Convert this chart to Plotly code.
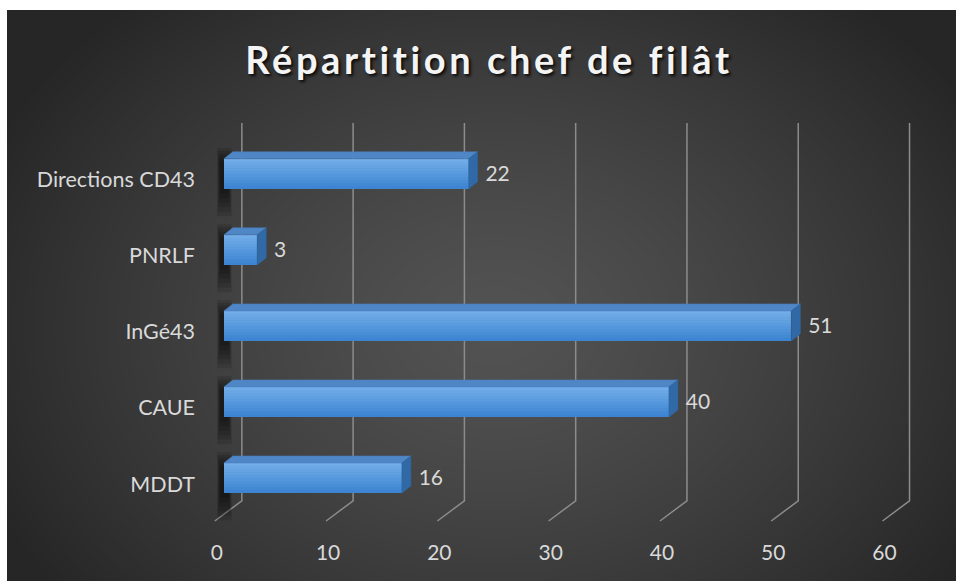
import base64
import struct
import zlib

import numpy as np
import plotly.graph_objects as go

# --- données ---
categories = ["MDDT", "CAUE", "InGé43", "PNRLF", "Directions CD43"]
values = [16, 40, 51, 3, 22]
x_ticks = [0, 10, 20, 30, 40, 50, 60]
titre = "Répartition chef de filât"

# --- géométrie de la pseudo-3D (unités des axes) ---
W = 0.395  # épaisseur de la barre (en catégories)
DX = 0.81  # profondeur horizontale d'une barre
DY = 0.092  # profondeur verticale d'une barre
GRID_TOP = 4.67
WALL_BOTTOM = -0.30
FLOOR_FRONT = -0.566

W_FIG, H_FIG = 956, 581
M = dict(l=196, r=20, t=113, b=46)

ypos = list(range(len(categories)))


def png_uri(gray):
    # petit encodeur PNG (niveaux de gris 8 bits) pour le fond dégradé
    h, w = gray.shape
    raw = b"".join(b"\x00" + gray[r].tobytes() for r in range(h))

    def chunk(tag, data):
        crc = zlib.crc32(tag + data) & 0xFFFFFFFF
        return struct.pack(">I", len(data)) + tag + data + struct.pack(">I", crc)

    png = b"\x89PNG\r\n\x1a\n"
    png += chunk(b"IHDR", struct.pack(">IIBBBBB", w, h, 8, 0, 0, 0, 0))
    png += chunk(b"IDAT", zlib.compress(raw, 9))
    png += chunk(b"IEND", b"")
    return "data:image/png;base64," + base64.b64encode(png).decode()


# fond radial gris foncé (bord blanc de 7 px à gauche, 10 px en haut)
bx0, by0 = 7, 10
bw, bh = W_FIG - bx0 + 20, H_FIG - by0 + 20
yy, xx = np.mgrid[0:bh, 0:bw]
d = np.sqrt(((xx + bx0 - 495) / 560.0) ** 2 + ((yy + by0 - 325) / 430.0) ** 2)
d = np.clip(d, 0, 1)
gray = (0x53 - (0x53 - 0x26) * d**1.3).astype(np.uint8)
fond = png_uri(gray)

pw = W_FIG - M["l"] - M["r"]
ph = H_FIG - M["t"] - M["b"]


def px(x):
    return (x - M["l"]) / pw


def py(y):
    return (H_FIG - M["b"] - y) / ph


fig = go.Figure()

# face avant : dégradé vertical en bandes
n_bandes = 10
bas = np.array([0x3D, 0x85, 0xD2])
haut = np.array([0x72, 0xAC, 0xE8])
for k in range(n_bandes):
    c = bas + (haut - bas) * k / (n_bandes - 1)
    fig.add_trace(
        go.Bar(
            x=values,
            y=ypos,
            orientation="h",
            base=0,
            width=W / n_bandes * 1.08,
            offset=-W / 2 + k * W / n_bandes,
            marker=dict(color="rgb(%d,%d,%d)" % tuple(c), line_width=0),
            hoverinfo="skip" if k else "x+text",
            hovertext=categories,
            showlegend=False,
        )
    )

# faces du dessus et de côté
top_x, top_y, side_x, side_y = [], [], [], []
for v, y in zip(values, ypos):
    yt, yb = y + W / 2, y - W / 2
    top_x += [0, v, v + DX, DX, 0, None]
    top_y += [yt, yt, yt + DY, yt + DY, yt, None]
    side_x += [v, v + DX, v + DX, v, v, None]
    side_y += [yt, yt + DY, yb + DY, yb, yt, None]

fig.add_trace(
    go.Scatter(
        x=top_x, y=top_y, fill="toself", mode="lines",
        line=dict(width=0.5, color="#4a7fbd"), fillcolor="#4f86c6",
        hoverinfo="skip", showlegend=False,
    )
)
fig.add_trace(
    go.Scatter(
        x=side_x, y=side_y, fill="toself", mode="lines",
        line=dict(width=0.5, color="#2f66a1"), fillcolor="#3169a6",
        hoverinfo="skip", showlegend=False,
    )
)

# étiquettes de valeur
fig.add_trace(
    go.Scatter(
        x=[v + DX + 0.7 for v in values], y=[y - 0.025 for y in ypos], mode="text",
        text=[str(v) for v in values], textposition="middle right",
        textfont=dict(family="Lato", size=21, color="#d9d9d9"),
        hoverinfo="skip", showlegend=False,
    )
)

# quadrillage du mur du fond + retour au sol
shapes = []
for t in x_ticks:
    shapes.append(
        dict(
            type="path", xref="x", yref="y", layer="below",
            path=f"M {t + 2 * DX},{GRID_TOP} L {t + 2 * DX},{WALL_BOTTOM} L {t - DX},{FLOOR_FRONT}",
            line=dict(color="#8c8c8c", width=1.5),
        )
    )

# ombre floue sur le mur de gauche
for y in ypos:
    for k in range(6):
        e = k * 0.06
        shapes.append(
            dict(
                type="rect", xref="x", yref="y", layer="below",
                x0=-0.6 + e * 0.9, x1=0.7 - e * 0.9,
                y0=y - W / 2 - 0.36 + e, y1=y + W / 2 + 0.14 - e * 0.6,
                fillcolor="rgba(0,0,0,0.12)", line_width=0,
            )
        )

# bord blanc en haut et à gauche
shapes.append(dict(type="rect", xref="paper", yref="paper", layer="above",
                   x0=px(-5), x1=px(bx0), y0=py(H_FIG + 5), y1=py(-5),
                   fillcolor="white", line_width=0))
shapes.append(dict(type="rect", xref="paper", yref="paper", layer="above",
                   x0=px(-5), x1=px(W_FIG + 5), y0=py(by0), y1=py(-5),
                   fillcolor="white", line_width=0))

fig.update_layout(
    width=W_FIG,
    height=H_FIG,
    margin=M,
    paper_bgcolor="#262626",
    plot_bgcolor="rgba(0,0,0,0)",
    barmode="overlay",
    bargap=0,
    title=dict(
        text=titre,
        x=489 / W_FIG,
        xanchor="center",
        y=1 - 61 / H_FIG,
        yanchor="middle",
        yref="container",
        font=dict(
            family="Lato", size=38, weight="bold", color="#f4f4f4",
            shadow="2px 2px 3px rgba(0,0,0,0.85)",
        ),
    ),
    xaxis=dict(
        range=[-2.5, 64],
        tickvals=x_ticks,
        showgrid=False,
        zeroline=False,
        showline=False,
        tickfont=dict(family="Lato", size=21, color="#d9d9d9"),
        ticklabelshift=-7,
        ticklabelstandoff=3,
        fixedrange=True,
    ),
    yaxis=dict(
        range=[-0.75, 4.8],
        tickvals=ypos,
        ticktext=categories,
        showgrid=False,
        zeroline=False,
        showline=False,
        tickfont=dict(family="Lato", size=21.5, color="#d9d9d9"),
        ticklabelshift=6,
        ticklabelstandoff=0,
        fixedrange=True,
    ),
    shapes=shapes,
    images=[
        dict(
            source=fond, xref="paper", yref="paper",
            x=px(bx0), y=py(by0),
            sizex=bw / pw, sizey=bh / ph,
            xanchor="left", yanchor="top", sizing="stretch", layer="below",
        )
    ],
)

# page sans marge + espacement des lettres du titre, comme dans l'original
post = """
document.body.style.margin = '0';
document.body.style.overflow = 'hidden';
var gd = document.getElementById('{plot_id}');
function espace() {
  gd.querySelectorAll('.gtitle').forEach(function (e) { e.style.letterSpacing = '3.6px'; });
}
espace();
gd.on('plotly_afterplot', espace);
"""

fig.write_html("out.html", post_script=post, config={"displayModeBar": False})
